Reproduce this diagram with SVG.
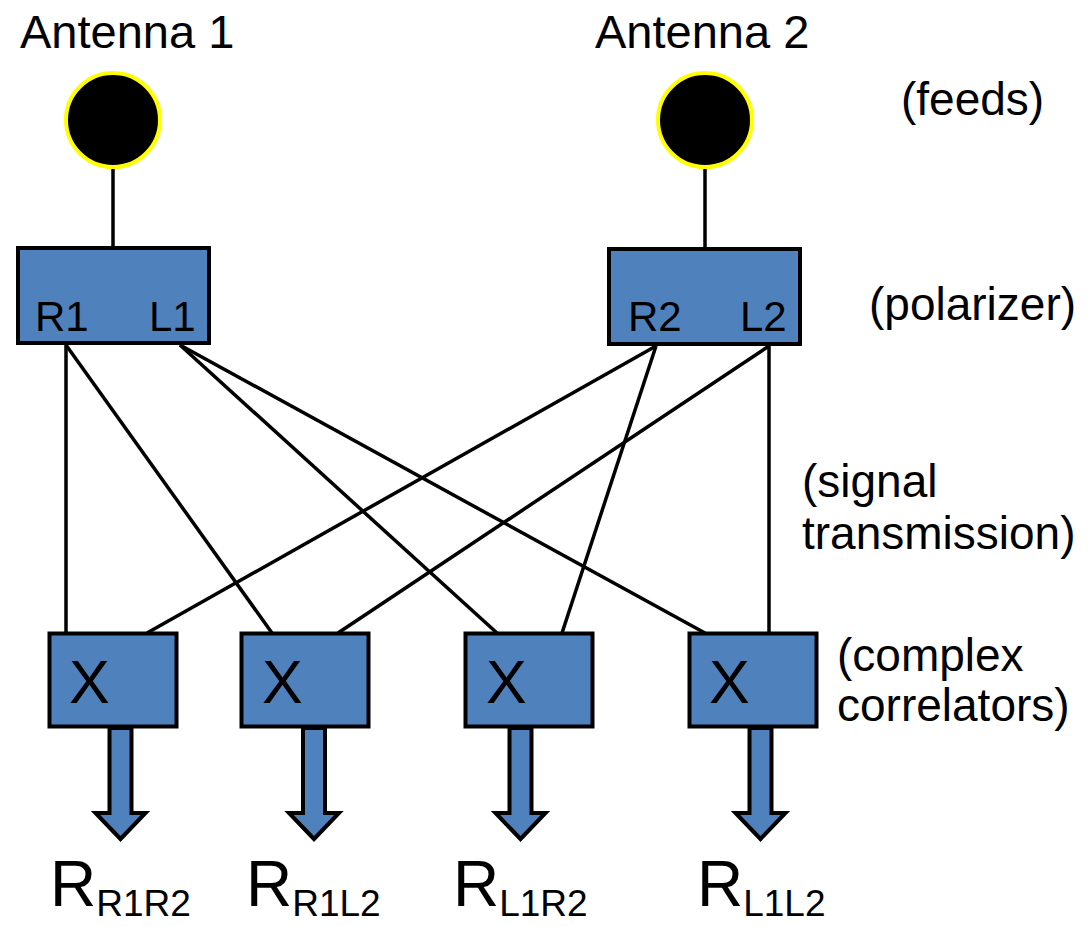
<svg xmlns="http://www.w3.org/2000/svg" width="1090" height="926" viewBox="0 0 1090 926">
  <style>
    text { font-family: "Liberation Sans", Arial, sans-serif; fill: #000; }
    .title { font-size: 47px; }
    .note { font-size: 46px; }
    .port { font-size: 42px; }
    .mult { font-size: 61px; }
    .big { font-size: 64px; }
    .sub { font-size: 37px; }
    .box { fill: #4F81BD; stroke: #000; stroke-width: 4; }
    .feed { fill: #000; stroke: #FFFF00; stroke-width: 4; }
    .wire { stroke: #000; stroke-width: 3.5; fill: none; }
    .out { fill: #4F81BD; stroke: #000; stroke-width: 4; stroke-linejoin: miter; }
  </style>
  <defs>
    <!-- block output arrow, origin at top centre of shaft -->
    <path id="outArrow" d="M -11 0 L 11 0 L 11 85 L 25 85 L 0 111 L -25 85 L -11 85 Z"/>
  </defs>
  <rect width="1090" height="926" fill="#fff"/>

  <!-- connectors -->
  <g id="connectors">
    <line class="wire" x1="113" y1="167" x2="113" y2="248"/>
    <line class="wire" x1="705" y1="167" x2="705" y2="249"/>
    <line class="wire" x1="66" y1="345" x2="66" y2="633"/>
    <line class="wire" x1="66" y1="345" x2="272" y2="633"/>
    <line class="wire" x1="180" y1="345" x2="497" y2="633"/>
    <line class="wire" x1="180" y1="345" x2="705" y2="633"/>
    <line class="wire" x1="656" y1="346" x2="147" y2="633"/>
    <line class="wire" x1="656" y1="346" x2="562" y2="633"/>
    <line class="wire" x1="769" y1="346" x2="338" y2="633"/>
    <line class="wire" x1="769" y1="346" x2="769" y2="633"/>
  </g>

  <!-- feeds -->
  <g id="antenna1">
    <text class="title" x="20" y="48">Antenna 1</text>
    <circle class="feed" cx="113" cy="120" r="47"/>
  </g>
  <g id="antenna2">
    <text class="title" x="595" y="48">Antenna 2</text>
    <circle class="feed" cx="705" cy="120" r="47"/>
  </g>

  <!-- polarizers -->
  <g id="polarizer1">
    <rect class="box" x="18" y="248" width="191" height="95"/>
    <text class="port" x="35" y="331">R1</text>
    <text class="port" x="149" y="331">L1</text>
  </g>
  <g id="polarizer2">
    <rect class="box" x="609" y="249" width="191" height="95"/>
    <text class="port" x="628" y="331">R2</text>
    <text class="port" x="740" y="331">L2</text>
  </g>

  <!-- correlators -->
  <g id="corrR1R2">
    <use href="#outArrow" class="out" x="120.5" y="728"/>
    <rect class="box" x="49.5" y="633.5" width="127" height="93"/>
    <text class="mult" x="69" y="703">X</text>
    <text class="big" x="50" y="906">R<tspan class="sub" dy="10">R1R2</tspan></text>
  </g>
  <g id="corrR1L2">
    <use href="#outArrow" class="out" x="314" y="728"/>
    <rect class="box" x="241.5" y="633.5" width="127" height="93"/>
    <text class="mult" x="262" y="703">X</text>
    <text class="big" x="246" y="906">R<tspan class="sub" dy="10">R1L2</tspan></text>
  </g>
  <g id="corrL1R2">
    <use href="#outArrow" class="out" x="520.5" y="728"/>
    <rect class="box" x="465.5" y="633.5" width="127" height="93"/>
    <text class="mult" x="486" y="703">X</text>
    <text class="big" x="453" y="906">R<tspan class="sub" dy="10">L1R2</tspan></text>
  </g>
  <g id="corrL1L2">
    <use href="#outArrow" class="out" x="760.5" y="728"/>
    <rect class="box" x="689.5" y="633.5" width="127" height="93"/>
    <text class="mult" x="709" y="703">X</text>
    <text class="big" x="697" y="906">R<tspan class="sub" dy="10">L1L2</tspan></text>
  </g>

  <!-- stage notes -->
  <g id="notes">
    <text class="note" x="901" y="115">(feeds)</text>
    <text class="note" x="869" y="320">(polarizer)</text>
    <text class="note" x="802" y="497">(signal</text>
    <text class="note" x="802" y="549">transmission)</text>
    <text class="note" x="837" y="671">(complex</text>
    <text class="note" x="837" y="721">correlators)</text>
  </g>
</svg>
